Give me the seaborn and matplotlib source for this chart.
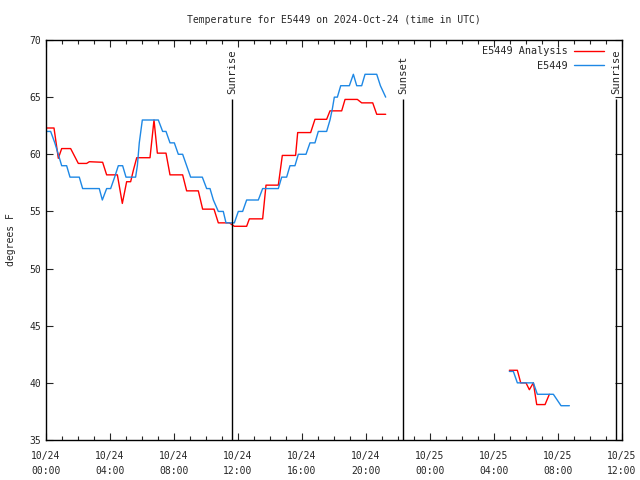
import pandas as pd
import matplotlib
matplotlib.use('Agg')
import matplotlib.pyplot as plt
import matplotlib.dates as mdates
import seaborn as sns

start = pd.Timestamp('2024-10-24 00:00')

# observed temps (hours after start, deg F), two pieces with a gap in between
obs_hours_1 = [0.0, 0.29, 0.55, 0.77, 0.98, 1.29, 1.5, 2.08, 2.29, 3.33, 3.52, 3.79,
               4.04, 4.29, 4.52, 4.79, 5.0, 5.6, 5.71, 5.83, 6.02, 7.02, 7.29, 7.5,
               7.75, 8.02, 8.27, 8.54, 8.79, 9.04, 9.77, 10.04, 10.25, 10.46, 10.77,
               11.08, 11.25, 11.77, 12.02, 12.29, 12.54, 13.27, 13.54, 14.52, 14.73,
               15.04, 15.25, 15.56, 15.77, 16.25, 16.5, 16.81, 17.02, 17.54, 17.75,
               17.9, 18.02, 18.21, 18.42, 18.96, 19.21, 19.42, 19.73, 19.94, 20.67,
               20.9, 21.23]
obs_temps_1 = [62, 62, 61, 60, 59, 59, 58, 58, 57, 57, 56, 57,
               57, 58, 59, 59, 58, 58, 59, 61, 63, 63, 62, 62,
               61, 61, 60, 60, 59, 58, 58, 57, 57, 56, 55,
               55, 54, 54, 55, 55, 56, 56, 57, 57, 58,
               58, 59, 59, 60, 60, 61, 61, 62, 62, 63,
               64, 65, 65, 66, 66, 67, 66, 66, 67, 67,
               66, 65]
obs_hours_2 = [28.96, 29.21, 29.46, 30.46, 30.71, 31.71, 32.19, 32.71]
obs_temps_2 = [41, 41, 40, 40, 39, 39, 38, 38]

# analysis temps
ana_hours_1 = [0.0, 0.5, 0.77, 0.98, 1.54, 2.02, 2.54, 2.71, 3.54, 3.79, 4.46, 4.77,
               5.04, 5.29, 5.46, 5.67, 6.5, 6.75, 6.96, 7.5, 7.75, 8.54, 8.79, 9.52,
               9.79, 10.5, 10.77, 11.46, 11.77, 12.54, 12.71, 13.54, 13.75, 14.52,
               14.77, 15.6, 15.73, 16.54, 16.81, 17.54, 17.75, 18.48, 18.69, 19.46,
               19.73, 20.42, 20.67, 21.23]
ana_temps_1 = [62.3, 62.3, 59.65, 60.5, 60.5, 59.2, 59.2, 59.35, 59.3, 58.2, 58.2, 55.7,
               57.6, 57.6, 58.6, 59.7, 59.7, 63.0, 60.1, 60.1, 58.2, 58.2, 56.8, 56.8,
               55.2, 55.2, 54.0, 54.0, 53.7, 53.7, 54.35, 54.35, 57.3, 57.3,
               59.9, 59.9, 61.9, 61.9, 63.06, 63.06, 63.8, 63.8, 64.8, 64.8,
               64.5, 64.5, 63.5, 63.5]
ana_hours_2 = [28.96, 29.46, 29.67, 30.0, 30.21, 30.46, 30.67, 31.19, 31.46]
ana_temps_2 = [41.1, 41.1, 40.0, 40.0, 39.4, 40.0, 38.1, 38.1, 39.0]

sun_hours = [11.625, 22.31, 35.625]
sun_labels = ['Sunrise', 'Sunset', 'Sunrise']

series_names = ['E5449 Analysis', 'E5449']
series_colors = ['#ff0000', '#1e88e5']


def piece(hours, temps, name, seg):
    return pd.DataFrame({'time': start + pd.to_timedelta(hours, unit='h'),
                         'temp': temps, 'series': name, 'segment': seg})


df = pd.concat([piece(ana_hours_1, ana_temps_1, series_names[0], 'a1'),
                piece(ana_hours_2, ana_temps_2, series_names[0], 'a2'),
                piece(obs_hours_1, obs_temps_1, series_names[1], 'o1'),
                piece(obs_hours_2, obs_temps_2, series_names[1], 'o2')],
               ignore_index=True)

sns.set_style('ticks')
plt.rcParams['font.family'] = ['DejaVu Sans Mono']
plt.rcParams['font.size'] = 7

fig = plt.figure(figsize=(6.4, 4.8), dpi=100)
ax = fig.add_axes([46/640, 40/480, 576/640, 400/480])

sns.lineplot(data=df, x='time', y='temp', hue='series', units='segment',
             estimator=None, hue_order=series_names,
             palette=dict(zip(series_names, series_colors)), lw=1, ax=ax)

sun_times = start + pd.to_timedelta(sun_hours, unit='h')
ax.vlines(sun_times, 35, 64.8, color='k', lw=1)
for t, lab in zip(sun_times, sun_labels):
    ax.text(t, 65.3, lab, rotation=90, ha='center', va='bottom', fontsize=7.6)

ax.set_xlim(start, start + pd.Timedelta(hours=36))
ax.set_ylim(35, 70)
ax.set_yticks(range(35, 71, 5))
ax.xaxis.set_major_locator(mdates.HourLocator(byhour=[0, 4, 8, 12, 16, 20]))
ax.xaxis.set_minor_locator(mdates.HourLocator())
ax.xaxis.set_major_formatter(mdates.DateFormatter('%m/%d\n%H:%M'))
for lbl in ax.get_xticklabels():
    lbl.set_linespacing(1.6)
ax.tick_params(which='both', direction='in', top=True, right=True, labelsize=7)
ax.tick_params(which='major', length=5, width=0.8)
ax.tick_params(which='minor', length=3, width=0.8)
ax.tick_params(axis='x', pad=8)
for s in ax.spines.values():
    s.set_linewidth(1)
    s.set_color('k')

ax.set_xlabel('')
ax.set_ylabel('degrees F', fontsize=7)
ax.yaxis.set_label_coords(-0.052, 0.5)
ax.set_title('Temperature for E5449 on 2024-Oct-24 (time in UTC)', fontsize=7, pad=12)

handles, labels = ax.get_legend_handles_labels()
ax.legend(handles, labels, loc='upper right', frameon=False, markerfirst=False,
          handlelength=2.9, handletextpad=0.6, fontsize=7.3, borderaxespad=0.0,
          labelspacing=0.45, bbox_to_anchor=(0.975, 0.995))

fig.savefig('out.png', dpi=100)
